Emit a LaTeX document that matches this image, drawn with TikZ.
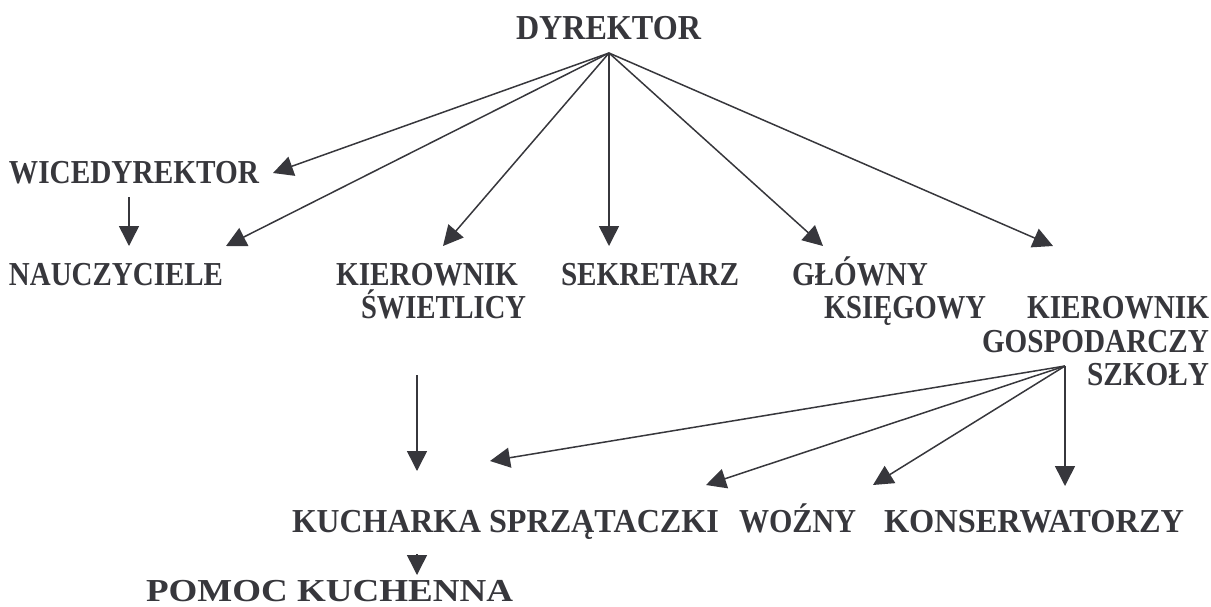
\documentclass[tikz,border=0pt]{standalone}
\usepackage{fontspec}
\setmainfont{Liberation Serif}
\usetikzlibrary{arrows.meta}
\definecolor{ink}{RGB}{55,55,60}
\newcommand\fitto[2]{\resizebox{#1pt}{\height}{#2}}
\begin{document}
\begin{tikzpicture}[x=1pt,y=-1pt,
  lbl/.style={anchor=base west,inner sep=0pt,outer sep=0pt,text=ink,
    font=\fontsize{33.5}{35}\selectfont\bfseries},
  lblr/.style={lbl,anchor=base east},
  arr/.style={draw=ink,line width=1.5pt,-{Triangle[length=20pt,width=20pt]}}]
\useasboundingbox (0,0) rectangle (1211,606);
% texts
\node[lbl,font=\fontsize{35}{37}\selectfont\bfseries] (dyr) at (516,39) {\fitto{185}{DYREKTOR}};
\node[lbl] (wice) at (9,183) {\fitto{250}{WICEDYREKTOR}};
\node[lbl] (naucz) at (9,285) {\fitto{214}{NAUCZYCIELE}};
\node[lbl] (kswa) at (336,285) {\fitto{182}{KIEROWNIK}};
\node[lbl] (kswb) at (361,318) {\fitto{165}{ŚWIETLICY}};
\node[lbl] (sekr) at (561,285) {\fitto{178}{SEKRETARZ}};
\node[lbl] (glka) at (792,285) {\fitto{136}{GŁÓWNY}};
\node[lbl] (glkb) at (824,318) {\fitto{162}{KSIĘGOWY}};
\node[lblr] (kgsa) at (1209,318) {\fitto{182}{KIEROWNIK}};
\node[lblr] (kgsb) at (1209,352) {\fitto{227}{GOSPODARCZY}};
\node[lblr] (kgsc) at (1209,385) {\fitto{122}{SZKOŁY}};
\node[lbl] (kuch) at (292,532) {\fitto{189}{KUCHARKA}};
\node[lbl] (sprz) at (489,532) {\fitto{230}{SPRZĄTACZKI}};
\node[lbl] (wozn) at (739,532) {\fitto{117}{WOŹNY}};
\node[lbl] (kons) at (884,532) {\fitto{300}{KONSERWATORZY}};
\node[lbl,font=\fontsize{32}{34}\selectfont\bfseries,text depth=0pt] (pomoc) at (146,601) {\fitto{367}{POMOC KUCHENNA}};
% connector end points
\coordinate (dsrc) at (609,53);
\coordinate (twice) at (273,173);
\coordinate (tnaucz) at (226,246);
\coordinate (tksw) at (443,246);
\coordinate (tsekr) at (609,246);
\coordinate (tglk) at (823,246);
\coordinate (tkgs) at (1053,246);
\coordinate (wsrc) at (129,197);
\coordinate (wtip) at (129,246);
\coordinate (ksrc) at (417,375);
\coordinate (ktip) at (417,471);
\coordinate (gsrc) at (1065,366);
\coordinate (gkuch) at (490,461);
\coordinate (gsprz) at (706,485);
\coordinate (gwozn) at (873,485);
\coordinate (gkons) at (1065,486);
\coordinate (psrc) at (417,554);
\coordinate (ptip) at (417,575);
% connectors
\draw[arr] (dsrc) -- (twice);
\draw[arr] (dsrc) -- (tnaucz);
\draw[arr] (dsrc) -- (tksw);
\draw[arr] (dsrc) -- (tsekr);
\draw[arr] (dsrc) -- (tglk);
\draw[arr] (dsrc) -- (tkgs);
\draw[arr] (wsrc) -- (wtip);
\draw[arr] (ksrc) -- (ktip);
\draw[arr] (gsrc) -- (gkuch);
\draw[arr] (gsrc) -- (gsprz);
\draw[arr] (gsrc) -- (gwozn);
\draw[arr] (gsrc) -- (gkons);
\draw[arr] (psrc) -- (ptip);
\end{tikzpicture}
\end{document}
